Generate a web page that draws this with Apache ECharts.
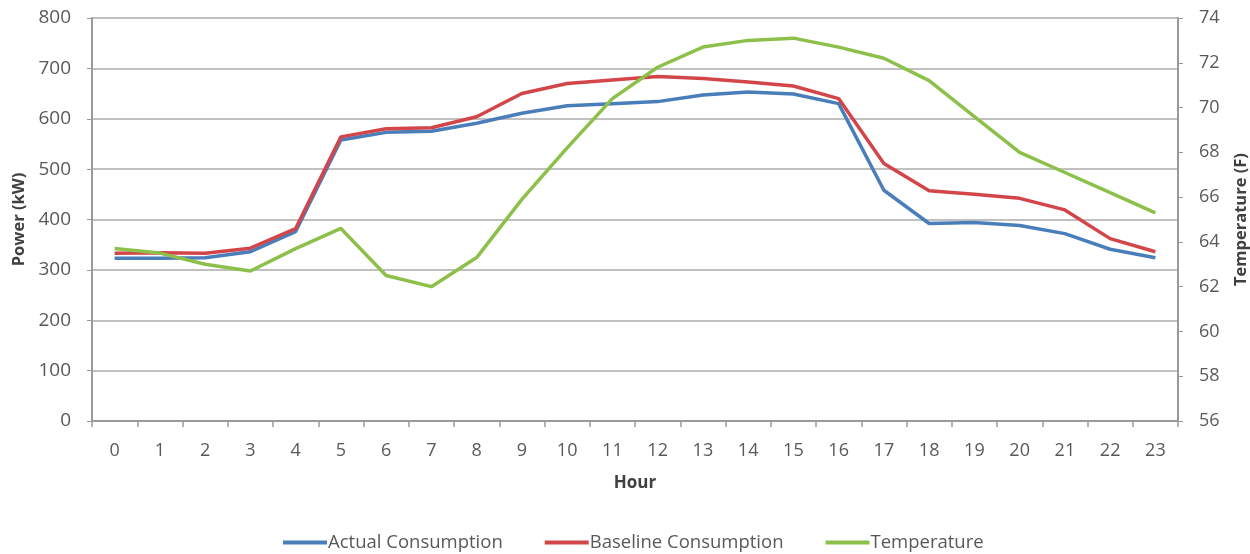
<!DOCTYPE html>
<html><head><meta charset="utf-8">
<script src="https://cdn.jsdelivr.net/npm/echarts@6/dist/echarts.min.js"></script>
<style>html,body{margin:0;padding:0;background:#fff}#c{width:1250px;height:554px}</style>
</head><body><div id="c"></div>
<script>
const hours = ['0','1','2','3','4','5','6','7','8','9','10','11','12','13','14','15','16','17','18','19','20','21','22','23'];
const actual = [323,323,324,336,376,558,573,575,591,611,626,630,634,647,653,649,630,458,392,394,388,372,341,324];
const baseline = [333,334,333,343,382,564,580,582,604,650,670,677,684,680,673,665,640,511,457,450,442,419,362,336];
const temperature = [63.7,63.5,63.0,62.7,63.7,64.6,62.5,62.0,63.3,65.9,68.2,70.4,71.8,72.7,73.0,73.1,72.7,72.2,71.2,69.6,68.0,67.1,66.2,65.3];
const powerTicks = {min:0,max:800,interval:100};
const tempTicks = {min:56,max:74,interval:2};

const font = 'Open Sans';
const grey = '#595959';
const chart = echarts.init(document.getElementById('c'));
chart.setOption({
  animation:false,
  textStyle:{fontFamily:font},
  grid:{left:92,right:72,top:18,bottom:133,containLabel:false,outerBoundsMode:'none'},
  legend:{
    top:528,left:278,itemWidth:44,itemHeight:4,itemGap:42,
    icon:'rect',
    textStyle:{fontFamily:font,fontSize:18.5,color:grey,padding:[0,0,0,-4]},
    data:['Actual Consumption','Baseline Consumption','Temperature']
  },
  xAxis:{
    type:'category',data:hours,boundaryGap:true,
    name:'Hour',nameLocation:'middle',nameGap:54,
    nameTextStyle:{fontFamily:font,fontSize:17,fontWeight:'bold',color:'#404040'},
    axisLine:{lineStyle:{color:'#9a9a9a',width:2}},
    axisTick:{show:true,length:6,alignWithLabel:false,lineStyle:{color:'#9a9a9a',width:1.5}},
    axisLabel:{fontSize:18,color:grey,margin:21}
  },
  yAxis:[{
    type:'value',min:powerTicks.min,max:powerTicks.max,interval:powerTicks.interval,
    name:'Power (kW)',nameLocation:'middle',nameGap:62,nameRotate:90,
    nameTextStyle:{fontFamily:font,fontSize:16.5,fontWeight:'bold',color:'#404040'},
    axisLine:{show:true,lineStyle:{color:'#9a9a9a',width:2}},
    axisTick:{show:true,length:5,lineStyle:{color:'#9a9a9a'}},
    axisLabel:{fontSize:19,color:grey,margin:21},
    splitLine:{lineStyle:{color:'#c0c0c0',width:2}}
  },{
    type:'value',min:tempTicks.min,max:tempTicks.max,interval:tempTicks.interval,position:'right',
    name:'Temperature (F)',nameLocation:'middle',nameGap:55,nameRotate:90,
    nameTextStyle:{fontFamily:font,fontSize:16.5,fontWeight:'bold',color:'#404040'},
    axisLine:{show:true,lineStyle:{color:'#9a9a9a',width:2}},
    axisTick:{show:true,length:5,lineStyle:{color:'#9a9a9a'}},
    axisLabel:{fontSize:18,color:grey,margin:21},
    splitLine:{show:false}
  }],
  series:[
    {name:'Actual Consumption',type:'line',data:actual,yAxisIndex:0,symbol:'none',lineStyle:{width:3.5,color:'#4a7ebb'},itemStyle:{color:'#4a7ebb'}},
    {name:'Baseline Consumption',type:'line',data:baseline,yAxisIndex:0,symbol:'none',lineStyle:{width:3.5,color:'#d2464a'},itemStyle:{color:'#d2464a'}},
    {name:'Temperature',type:'line',data:temperature,yAxisIndex:1,symbol:'none',lineStyle:{width:3.5,color:'#8dc04a'},itemStyle:{color:'#8dc04a'}}
  ]
});
</script></body></html>
